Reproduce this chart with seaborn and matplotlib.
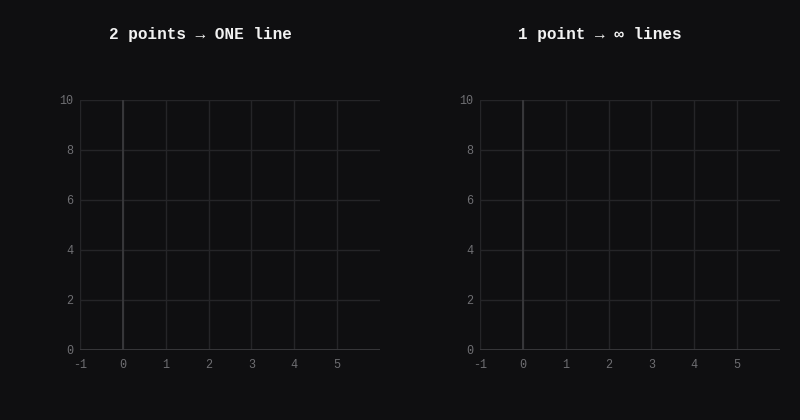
import matplotlib
matplotlib.use("Agg")
import matplotlib.pyplot as plt
import seaborn as sb

# panel titles and axis setup
titles = ["2 points \u2192 ONE line", "1 point \u2192 \u221e lines"]
x_ticks = [-1, 0, 1, 2, 3, 4, 5]
y_ticks = [0, 2, 4, 6, 8, 10]
x_range = [-1, 6]
y_range = [0, 10]

bg = "#0f0f11"
grid_c = "#252528"
axis_c = "#3a3a3d"
tick_c = "#6e6e72"

sb.set_style("dark", {"axes.facecolor": bg, "figure.facecolor": bg})
plt.rcParams['font.family'] = ['Liberation Mono', 'DejaVu Sans Mono', 'DejaVu Sans']

fig = plt.figure(figsize=(8, 4.2), dpi=100)
fig.patch.set_facecolor(bg)

lefts = [0.1, 0.6]
for i, left in enumerate(lefts):
    ax = fig.add_axes([left, 70 / 420, 0.375, 250 / 420])
    ax.set_facecolor(bg)
    ax.set_xlim(x_range)
    ax.set_ylim(y_range)
    ax.set_xticks(x_ticks)
    ax.set_yticks(y_ticks)
    ax.set_xticklabels([str(v) for v in x_ticks])
    ax.set_yticklabels([str(v) for v in y_ticks])
    ax.tick_params(colors=tick_c, labelsize=8.5, length=0)
    ax.tick_params(axis="x", pad=6.5)
    ax.tick_params(axis="y", pad=5)
    ax.grid(True, color=grid_c, linewidth=1)
    for s in ax.spines.values():
        s.set_visible(False)
    # axis lines through the origin
    ax.axvline(0, color=axis_c, linewidth=1.3)
    ax.axhline(0, color=axis_c, linewidth=1.3)
    fig.text(0.25 + 0.5 * i, 1 - 35 / 420, titles[i], color="#f2f2f2",
             fontsize=11.5, fontweight="bold", ha="center", va="center")

fig.savefig("out.png", dpi=100, facecolor=bg)
